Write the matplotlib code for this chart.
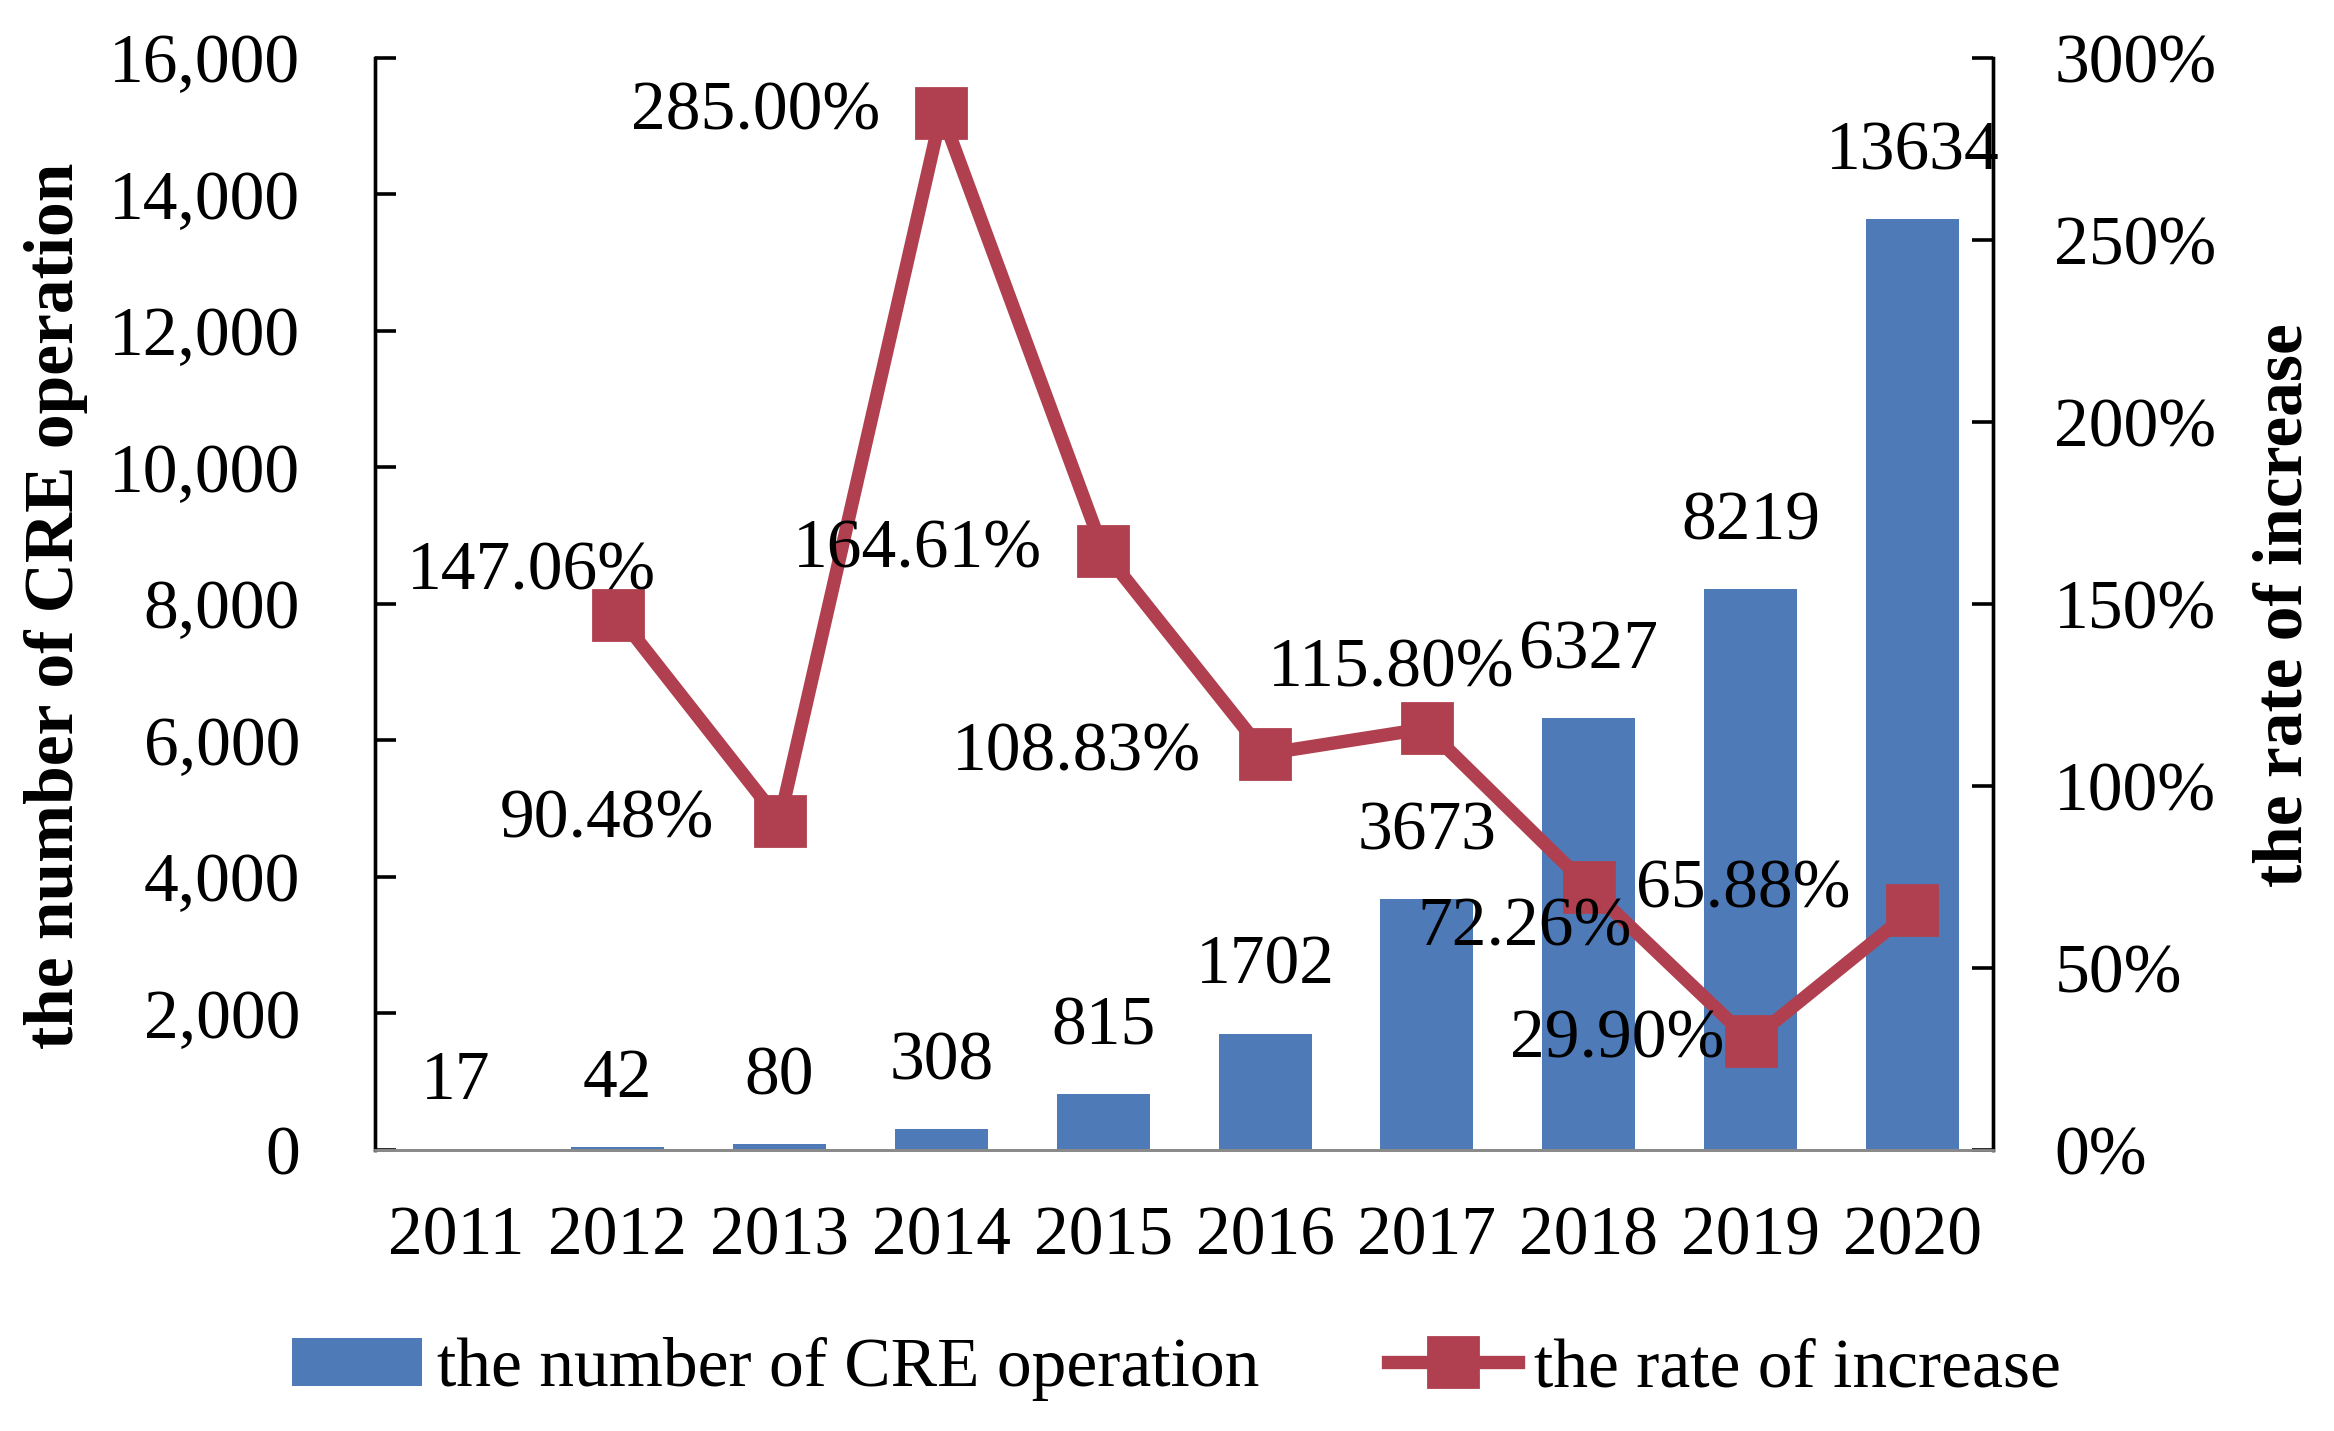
import matplotlib
matplotlib.use("Agg")
import matplotlib.pyplot as plt
from matplotlib.ticker import FuncFormatter

plt.rcParams["font.family"] = ["Liberation Serif", "DejaVu Serif"]

# datos
anios = ["2011", "2012", "2013", "2014", "2015", "2016", "2017", "2018", "2019", "2020"]
operaciones = [17, 42, 80, 308, 815, 1702, 3673, 6327, 8219, 13634]
anios_tasa = ["2012", "2013", "2014", "2015", "2016", "2017", "2018", "2019", "2020"]
tasa = [147.06, 90.48, 285.00, 164.61, 108.83, 115.80, 72.26, 29.90, 65.88]

# desplazamiento de cada etiqueta de la tasa (puntos)
desplaz_tasa = [(-31, 15), (-62, 0), (-67, 0), (-67, 0), (-68, 0),
                (-13, 21), (-23, -15), (-48, 0), (-61, 7)]

color_barra = "#4F7AB8"
color_linea = "#B0404F"
fs = 25

fig = plt.figure(figsize=(11.67, 7.155), dpi=200)
ax = fig.add_axes([0.1607, 0.1964, 0.6933, 0.7631])
ax2 = ax.twinx()

x = list(range(len(anios)))
barras = ax.bar(x, operaciones, width=0.575, color=color_barra,
                label="the number of CRE operation", zorder=2)
for xi, v in zip(x, operaciones):
    ax.annotate(str(v), (xi, v), xytext=(0, 24), textcoords="offset points",
                ha="center", va="center", fontsize=fs)

xt = [anios.index(a) for a in anios_tasa]
linea, = ax2.plot(xt, tasa, color=color_linea, linewidth=4.8, marker="s",
                  markersize=18, label="the rate of increase", zorder=3)
for xi, v, d in zip(xt, tasa, desplaz_tasa):
    ax2.annotate(f"{v:.2f}%", (xi, v), xytext=d, textcoords="offset points",
                 ha="center", va="center", fontsize=fs)

ax.set_xlim(-0.5, len(anios) - 0.5)
ax.set_ylim(0, 16000)
ax2.set_ylim(0, 300)
ax.set_yticks(range(0, 16001, 2000))
ax2.set_yticks(range(0, 301, 50))
ax.yaxis.set_major_formatter(FuncFormatter(lambda v, p: f"{int(v):,}"))
ax2.yaxis.set_major_formatter(FuncFormatter(lambda v, p: f"{int(v)}%"))
ax.set_xticks(x)
ax.set_xticklabels(anios)

ax.tick_params(axis="x", length=0, pad=20, labelsize=fs)
ax.tick_params(axis="y", direction="in", length=7.5, width=1.3, pad=27, labelsize=fs)
ax2.tick_params(axis="y", direction="in", length=7.5, width=1.3, pad=22, labelsize=fs)

for a in (ax, ax2):
    a.spines["top"].set_visible(False)
    a.spines["left"].set_linewidth(1.2)
    a.spines["right"].set_linewidth(1.2)
    a.spines["bottom"].set_color("#8A8A8A")
    a.spines["bottom"].set_linewidth(1.0)

fig.text(0.024, 0.577, "the number of CRE operation", rotation=90, ha="center",
         va="center", fontsize=fs, fontweight="bold")
fig.text(0.979, 0.577, "the rate of increase", rotation=90, ha="center",
         va="center", fontsize=fs, fontweight="bold")

fig.legend([barras, linea], ["the number of CRE operation", "the rate of increase"],
           loc="center", bbox_to_anchor=(0.504, 0.043), ncol=2, frameon=False,
           fontsize=fs, handlelength=1.87, handletextpad=0.23, columnspacing=1.85)

fig.savefig("out.png", dpi=200)
